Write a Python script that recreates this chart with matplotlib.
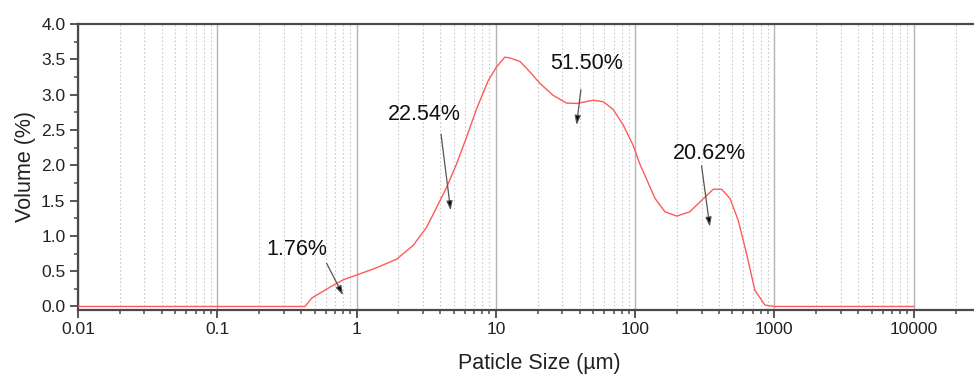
import numpy as np
import matplotlib
matplotlib.use('Agg')
import matplotlib.pyplot as plt
from matplotlib.ticker import LogLocator, MultipleLocator, FixedFormatter, FixedLocator

plt.rcParams['font.family'] = ['Liberation Sans', 'DejaVu Sans']

# particle size distribution
size_um = [0.01, 0.1, 0.427, 0.476, 0.546, 0.644, 0.803, 1.03, 1.39, 1.94, 2.55, 3.18,
           3.56, 4.44, 5.23, 6.17, 7.28, 8.83, 10.1, 11.6, 12.6, 14.9, 17.6, 20.7,
           25.8, 32.2, 38.0, 50.0, 59.0, 69.6, 82.2, 96.9, 108, 121, 139, 164, 199,
           247, 292, 364, 418, 480, 550, 631, 724, 855, 1000, 10000]
volume_pct = [0.0, 0.0, 0.0, 0.118, 0.189, 0.274, 0.378, 0.454, 0.548, 0.67, 0.865, 1.12,
              1.31, 1.69, 2.02, 2.40, 2.80, 3.20, 3.39, 3.53, 3.52, 3.47, 3.32, 3.16,
              2.99, 2.88, 2.875, 2.92, 2.90, 2.79, 2.57, 2.28, 2.02, 1.80, 1.53, 1.34, 1.28,
              1.34, 1.48, 1.66, 1.66, 1.53, 1.22, 0.75, 0.23, 0.02, 0.0, 0.0]

labels = ['1.76%', '22.54%', '51.50%', '20.62%']
label_xy = [(0.373, 0.80), (3.08, 2.72), (45.1, 3.44), (339, 2.17)]
arrow_tail = [(0.61, 0.61), (4.04, 2.44), (40.8, 3.07), (300, 1.99)]
arrow_tip = [(0.80, 0.16), (4.74, 1.36), (38.0, 2.57), (344, 1.13)]

W, H = 974, 374
fig = plt.figure(figsize=(W / 100, H / 100), dpi=100)
# axes runs past the right edge of the figure, like the cropped original
ax = fig.add_axes([78 / W, (H - 310) / H, (1000 - 78) / W, (310 - 24) / H])

ax.plot(size_um, volume_pct, color='#ff5a5a', lw=1.0, zorder=3)

ax.set_xscale('log')
ax.set_xlim(0.01, 10 ** 4.62)
ax.set_ylim(-0.05, 4.0)

ax.xaxis.set_major_locator(FixedLocator([0.01, 0.1, 1, 10, 100, 1000, 10000]))
ax.xaxis.set_major_formatter(FixedFormatter(['0.01', '0.1', '1', '10', '100', '1000', '10000']))
ax.xaxis.set_minor_locator(LogLocator(base=10, subs=np.arange(2, 10), numticks=20))
ax.yaxis.set_major_locator(MultipleLocator(0.5))
ax.yaxis.set_minor_locator(MultipleLocator(0.25))
ax.yaxis.set_major_formatter(matplotlib.ticker.FormatStrFormatter('%.1f'))

ax.grid(which='major', axis='x', color='#b4b4b4', lw=1.0, zorder=0)
ax.grid(which='minor', axis='x', color='#cccccc', lw=0.8, linestyle=(0, (1.5, 2)), zorder=0)

for side in ['left', 'bottom', 'top']:
    ax.spines[side].set_color('#4a4a4a')
    ax.spines[side].set_linewidth(1.6)
ax.spines['right'].set_visible(False)

ax.tick_params(which='major', direction='out', length=6, width=1.3, color='#4a4a4a',
               labelsize=12.5, labelcolor='#222222', pad=3)
ax.tick_params(which='minor', direction='out', length=3, width=1.1, color='#4a4a4a')
ax.tick_params(axis='x', which='both', top=False)

ax.set_xlabel('Paticle Size (\u00b5m)', fontsize=15.5, color='#222222', labelpad=11)
ax.set_ylabel('Volume (%)', fontsize=15.5, color='#222222', labelpad=4)

for lab, (tx, ty), tail, tip in zip(labels, label_xy, arrow_tail, arrow_tip):
    ax.text(tx, ty, lab, fontsize=15.5, color='#111111', ha='center', va='center', zorder=4)
    ax.annotate('', xy=tip, xytext=tail,
                arrowprops=dict(arrowstyle='-|>,head_length=0.55,head_width=0.18',
                                ec='#555555', fc='black', lw=0.9,
                                shrinkA=0, shrinkB=0), zorder=4)

fig.savefig('out.png', dpi=100)
